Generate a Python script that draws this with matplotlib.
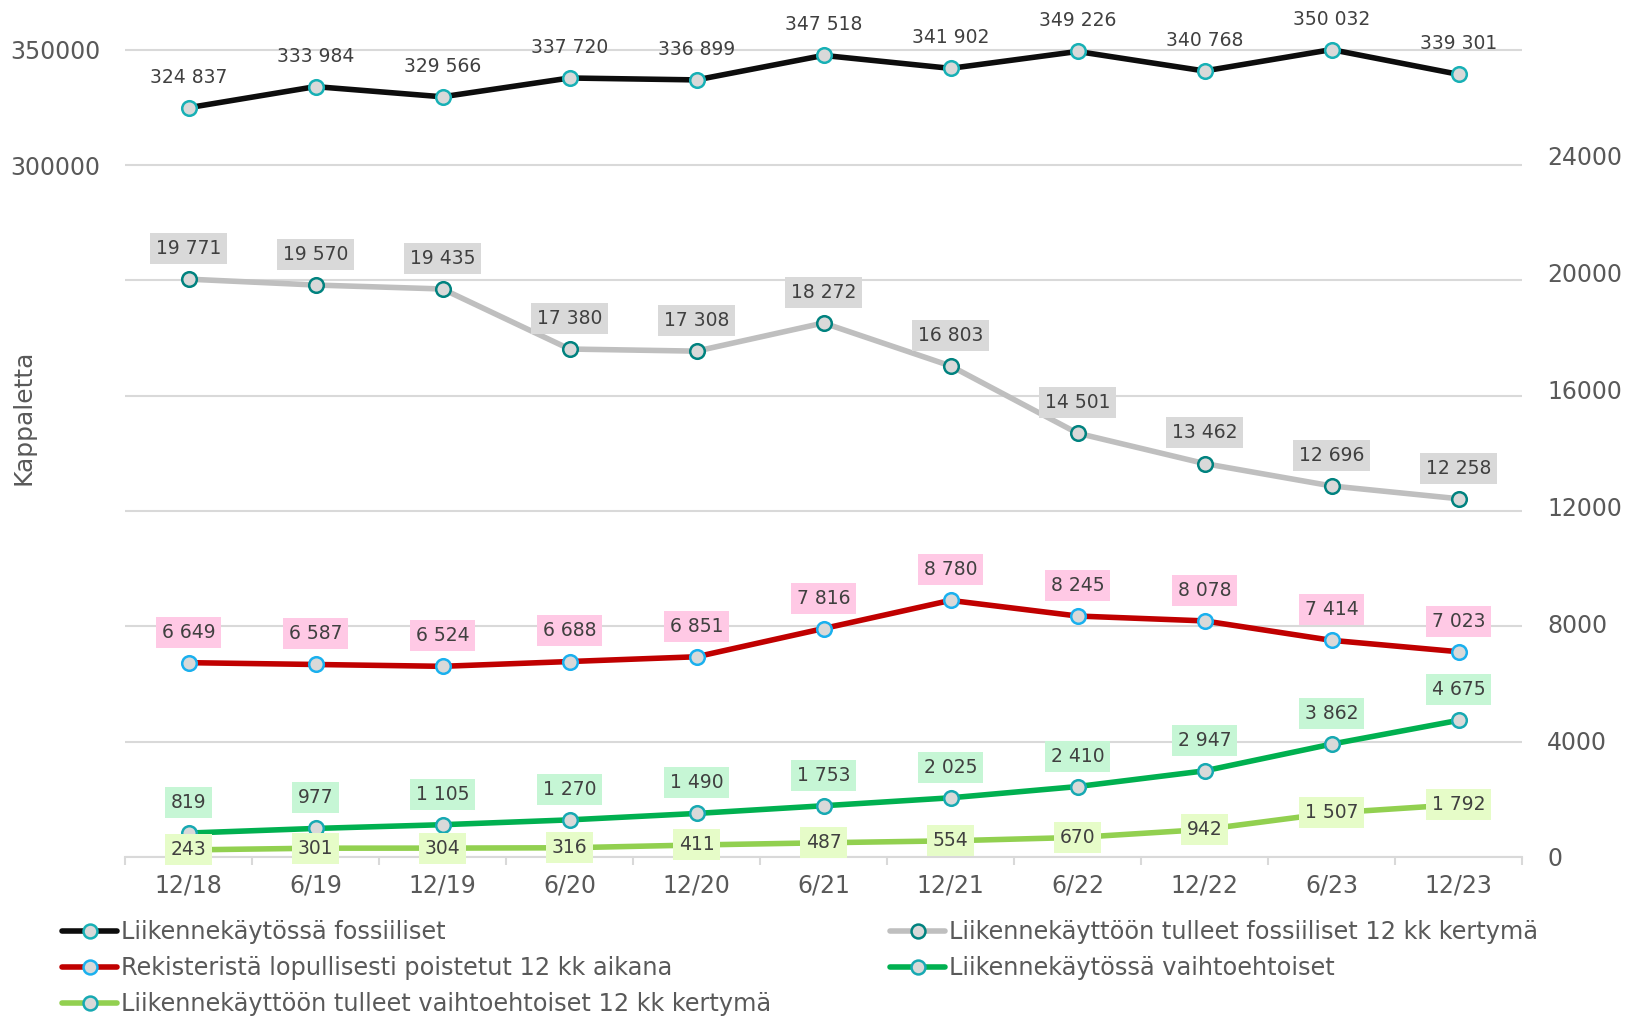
import matplotlib
matplotlib.use('Agg')
import matplotlib.pyplot as plt
from matplotlib.lines import Line2D

# data
periodit = ['12/18', '6/19', '12/19', '6/20', '12/20', '6/21',
            '12/21', '6/22', '12/22', '6/23', '12/23']
fossiiliset = [324837, 333984, 329566, 337720, 336899, 347518,
               341902, 349226, 340768, 350032, 339301]
fossiiliset_tulleet = [19771, 19570, 19435, 17380, 17308, 18272,
                       16803, 14501, 13462, 12696, 12258]
poistetut = [6649, 6587, 6524, 6688, 6851, 7816, 8780, 8245, 8078, 7414, 7023]
vaihtoehtoiset = [819, 977, 1105, 1270, 1490, 1753, 2025, 2410, 2947, 3862, 4675]
vaihtoehtoiset_tulleet = [243, 301, 304, 316, 411, 487, 554, 670, 942, 1507, 1792]

nimet = ['Liikennekäytössä fossiiliset',
         'Liikennekäyttöön tulleet fossiiliset 12 kk kertymä',
         'Rekisteristä lopullisesti poistetut 12 kk aikana',
         'Liikennekäytössä vaihtoehtoiset',
         'Liikennekäyttöön tulleet vaihtoehtoiset 12 kk kertymä']

oikea_ticks = [0, 4000, 8000, 12000, 16000, 20000, 24000]
vasen_ticks = [0, 50000, 100000, 150000, 200000, 250000, 300000, 350000]
vasen_nakyvat = [300000, 350000]

TXT = '#595959'
LBL = '#404040'
GRID = '#d9d9d9'
MFILL = '#d9d9d9'

plt.rcParams['font.family'] = ['DejaVu Sans']

fig = plt.figure(figsize=(16.26, 10.16), dpi=100)
# left scale axis is the base (gridlines), right scale axis on top
axl = fig.add_axes([125 / 1626, 1 - 857 / 1016, 1397 / 1626, 847 / 1016])
ax = axl.twinx()

axl.set_ylim(0, 367200)
ax.set_ylim(0, 28980)
axl.set_xlim(-0.5, len(periodit) - 0.5)

x = list(range(len(periodit)))


def fmt(v):
    return f'{v:,}'.replace(',', ' ')


def piirra(a, vals, color, edge, lw=4):
    a.plot(x, vals, color=color, lw=lw, marker='o', ms=10.5,
           mfc=MFILL, mec=edge, mew=1.8, solid_capstyle='round', zorder=3)


def tekstit(a, vals, box, dy=22):
    for xi, v in zip(x, vals):
        bb = None if box is None else dict(boxstyle='square,pad=0.32', fc=box, ec='none')
        a.annotate(fmt(v), (xi, v), xytext=(0, dy), textcoords='offset points',
                   ha='center', va='center', fontsize=13.5, color=LBL,
                   bbox=bb, zorder=5)


piirra(axl, fossiiliset, '#0d0d0d', '#17b0b5')
piirra(ax, fossiiliset_tulleet, '#bfbfbf', '#00827f')
piirra(ax, poistetut, '#c00000', '#1ab0ee')
piirra(ax, vaihtoehtoiset, '#00b050', '#17a9b2')
piirra(ax, vaihtoehtoiset_tulleet, '#92d050', '#1ab0ee')

tekstit(axl, fossiiliset, None)
tekstit(ax, fossiiliset_tulleet, '#d9d9d9')
tekstit(ax, poistetut, '#ffc9e5')
tekstit(ax, vaihtoehtoiset, '#c6f6d5')
tekstit(ax, vaihtoehtoiset_tulleet, '#e6fcc8', dy=0)

# axes styling
axl.yaxis.tick_left()
ax.yaxis.tick_right()
axl.set_yticks(vasen_ticks)
axl.set_yticklabels([str(t) if t in vasen_nakyvat else '' for t in vasen_ticks])
ax.set_yticks(oikea_ticks)
ax.set_yticklabels([str(t) for t in oikea_ticks])
axl.grid(axis='y', color=GRID, lw=1.5)
axl.set_axisbelow(True)
axl.tick_params(axis='y', length=0, pad=18, labelsize=17, labelcolor=TXT)
ax.tick_params(axis='y', length=0, pad=18, labelsize=17, labelcolor=TXT)

axl.set_xticks([i - 0.5 for i in range(len(periodit) + 1)])
axl.set_xticklabels([])
axl.set_xticks(x, minor=True)
axl.set_xticklabels(periodit, minor=True)
axl.tick_params(axis='x', which='major', length=6, width=1.5, color=GRID)
axl.tick_params(axis='x', which='minor', length=0, pad=12, labelsize=17, labelcolor=TXT)

for a in (ax, axl):
    for s in a.spines.values():
        s.set_visible(False)
axl.spines['bottom'].set_visible(True)
axl.spines['bottom'].set_color(GRID)
axl.spines['bottom'].set_linewidth(1.5)

fig.text(23 / 1626, 1 - 417 / 1016, 'Kappaletta', rotation=90, ha='center',
         va='center', fontsize=18, color=TXT)

# legend in two separate columns
varit = [('#0d0d0d', '#17b0b5'), ('#bfbfbf', '#00827f'), ('#c00000', '#1ab0ee'),
         ('#00b050', '#17a9b2'), ('#92d050', '#17a9b2')]
kahvat = [Line2D([], [], color=c, lw=4, marker='o', ms=10, mfc=MFILL, mec=e, mew=1.8,
                 solid_capstyle='round') for c, e in varit]
leg_kw = dict(loc='upper left', frameon=False, fontsize=17.3, labelcolor=TXT,
              handlelength=2.3, handletextpad=0.15, labelspacing=0.5,
              borderpad=0, borderaxespad=0, numpoints=1)
fig.legend([kahvat[0], kahvat[2], kahvat[4]], [nimet[0], nimet[2], nimet[4]],
           bbox_to_anchor=(62 / 1626, 1 - 920 / 1016), **leg_kw)
fig.legend([kahvat[1], kahvat[3]], [nimet[1], nimet[3]],
           bbox_to_anchor=(890 / 1626, 1 - 920 / 1016), **leg_kw)

fig.savefig('out.png', dpi=100)
